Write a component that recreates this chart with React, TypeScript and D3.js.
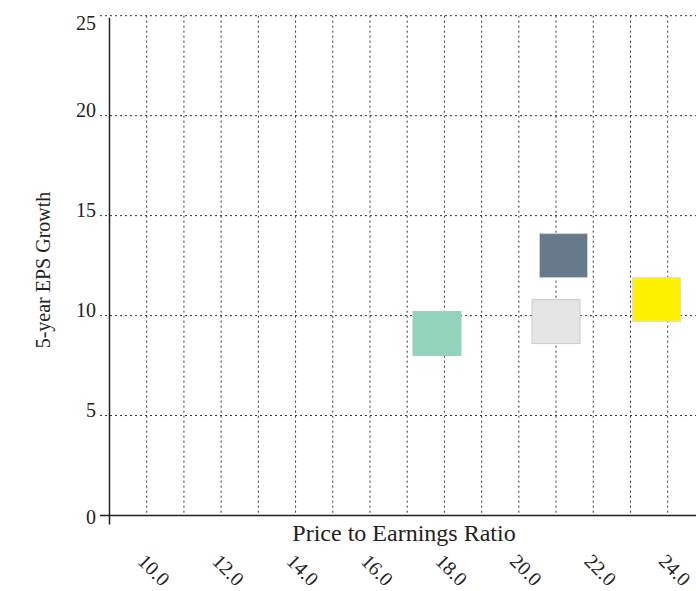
import React from 'react';
import * as d3 from 'd3';

// P/E ratio vs 5-year EPS growth
const peRatio = [17.8, 21.2, 21.0, 23.7];
const epsGrowth = [9.1, 13.0, 9.7, 10.8];
const fills = ['#93d3bc', '#667a8b', '#e5e5e5', '#fff200'];
const strokes = ['#93d3bc', '#d0d0d0', '#cccccc', '#dddddd'];

const xTicks = [10, 12, 14, 16, 18, 20, 22, 24];
const xGridValues = [10, 11, 12, 13, 14, 15, 16, 17, 18, 19, 20, 21, 22, 23, 24];
const yTicks = [0, 5, 10, 15, 20, 25];

const W = 696;
const H = 591;
const FONT = '"Liberation Serif", "Times New Roman", serif';

export default function App() {
  const x = d3.scaleLinear().domain([9, 25]).range([109.5, 704.9]);
  const y = d3.scaleLinear().domain([0, 25]).range([515.5, 15.7]);
  const boxW = 48;
  const boxH = 44;
  const dash = '2,3';

  return (
    <svg width={W} height={H} style={{ position: 'absolute', left: 0, top: 0, fontFamily: FONT }}>
      <rect width={W} height={H} fill="#fff" />

      {/* vertical grid */}
      {xGridValues.map(v => (
        <line key={'gx' + v} x1={x(v)} x2={x(v)} y1={y(25)} y2={y(0)}
          stroke="#333" strokeWidth={1} strokeDasharray={dash} />
      ))}

      {/* horizontal grid + y ticks */}
      {yTicks.map((v, i) => (
        <g key={'gy' + v}>
          <line x1={100} x2={W} y1={y(v)} y2={y(v)}
            stroke="#333" strokeWidth={1}
            strokeDasharray={i === 0 ? undefined : dash} />
          <text x={96} y={y(v)} textAnchor="end" fontSize={20} fill="#222"
            dy={i === 0 ? '0.4em' : i === yTicks.length - 1 ? '0.7em' : '0.05em'}>
            {v}
          </text>
        </g>
      ))}

      {/* axis lines */}
      <line x1={x(9)} x2={x(9)} y1={y(25) + 2} y2={y(0) + 9} stroke="#222" strokeWidth={1.5} />
      <line x1={100} x2={W} y1={y(0)} y2={y(0)} stroke="#222" strokeWidth={1.5} />

      {/* x tick labels */}
      {xTicks.map(v => (
        <text key={'xt' + v} fontSize={20} fill="#222"
          transform={`translate(${x(v) - 10},${y(0) + 47}) rotate(45)`}>
          {v.toFixed(1)}
        </text>
      ))}

      {/* axis titles */}
      <text x={404} y={541} textAnchor="middle" fontSize={24} fill="#222">
        Price to Earnings Ratio
      </text>
      <text transform={`translate(50,270) rotate(-90)`} textAnchor="middle" fontSize={20} fill="#222">
        5-year EPS Growth
      </text>

      {/* data squares */}
      {peRatio.map((v, i) => (
        <rect key={'r' + i}
          x={x(v) - boxW / 2} y={y(epsGrowth[i]) - boxH / 2}
          width={boxW} height={boxH}
          fill={fills[i]} stroke={strokes[i]} strokeWidth={1} />
      ))}
    </svg>
  );
}
